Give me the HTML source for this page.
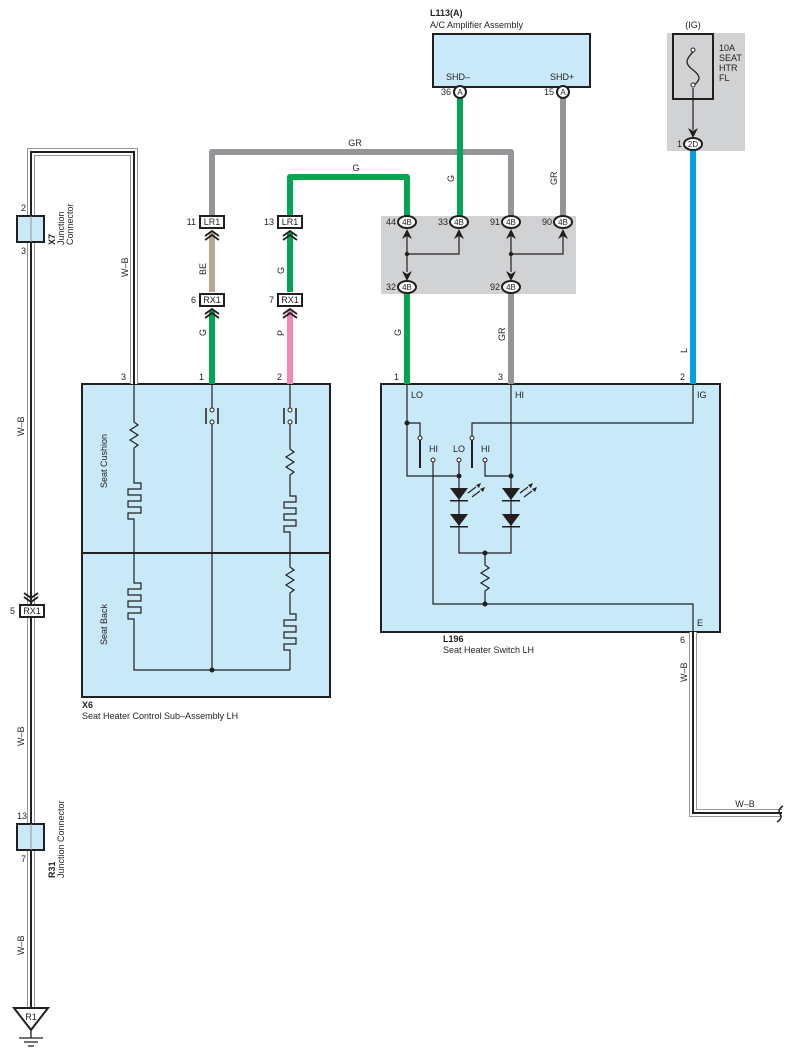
<!DOCTYPE html>
<html><head><meta charset="utf-8"><style>
html,body{margin:0;padding:0;background:#fff}
svg{display:block}
text{font-family:"Liberation Sans",Arial,sans-serif;font-size:9px;fill:#231f20}
.b{font-weight:bold}
</style></head><body>
<svg width="796" height="1061" viewBox="0 0 796 1061" xmlns="http://www.w3.org/2000/svg">
<!-- gray areas -->
<rect x="381" y="216" width="195" height="78" fill="#d1d2d4"/>
<rect x="667" y="33" width="78" height="118" fill="#d1d2d4"/>

<!-- boxes -->
<rect x="82" y="384" width="248" height="313" fill="#c8e9f8" stroke="#231f20" stroke-width="2"/>
<line x1="82" y1="553" x2="330" y2="553" stroke="#231f20" stroke-width="2"/>
<rect x="381" y="384" width="339" height="248" fill="#c8e9f8" stroke="#231f20" stroke-width="2"/>
<rect x="433" y="34" width="157" height="53" fill="#c8e9f8" stroke="#231f20" stroke-width="2"/>
<rect x="673" y="34" width="40" height="65" fill="none" stroke="#231f20" stroke-width="2"/>

<!-- W-B wires -->
<g fill="none">
<path d="M31,1010 V152 H134 V384" stroke="#939598" stroke-width="8"/>
<path d="M31,1010 V152 H134 V384" stroke="#fff" stroke-width="6"/>
<path d="M31,1010 V152 H134 V384" stroke="#231f20" stroke-width="2"/>
<path d="M693,632 V813 H782" stroke="#939598" stroke-width="8"/>
<path d="M693,632 V813 H782" stroke="#fff" stroke-width="6"/>
<path d="M693,632 V813 H782" stroke="#231f20" stroke-width="2"/>
</g>
<path d="M783,806 q-6,4 -3,8 q3,4 -3,8" fill="none" stroke="#231f20" stroke-width="1.5"/>

<!-- colored wires -->
<g fill="none" stroke-width="6">
<path d="M212,220 V152 H511 V216" stroke="#939598" stroke-linejoin="round"/>
<path d="M290,220 V177 H407 V216" stroke="#00a651" stroke-linejoin="round"/>
<path d="M460,92 V216" stroke="#00a651"/>
<path d="M563,92 V216" stroke="#939598"/>
<path d="M212,232 V292" stroke="#b8a890"/>
<path d="M290,232 V292" stroke="#00a651"/>
<path d="M212,310 V384" stroke="#00a651"/>
<path d="M290,310 V384" stroke="#f088b8"/>
<path d="M407,292 V384" stroke="#00a651"/>
<path d="M511,292 V384" stroke="#939598"/>
<path d="M693,150 V384" stroke="#00a0e3"/>
</g>

<!-- splice lines -->
<g stroke="#231f20" stroke-width="1.2" fill="none">
<path d="M407,236 V272"/>
<path d="M407,254 H459 V236"/>
<path d="M511,236 V272"/>
<path d="M511,254 H563 V236"/>
<path d="M693,88 V130"/>
</g>
<g fill="#231f20">
<path d="M407,229 l5,10 l-5,-3 l-5,3 Z"/><path d="M459,229 l5,10 l-5,-3 l-5,3 Z"/>
<path d="M511,229 l5,10 l-5,-3 l-5,3 Z"/><path d="M563,229 l5,10 l-5,-3 l-5,3 Z"/>
<path d="M407,281 l5,-10 l-5,3 l-5,-3 Z"/><path d="M511,281 l5,-10 l-5,3 l-5,-3 Z"/>
<path d="M693,138 l5,-10 l-5,3 l-5,-3 Z"/>
</g>
<circle cx="407" cy="254" r="2.2" fill="#231f20"/><circle cx="511" cy="254" r="2.2" fill="#231f20"/>
<path d="M693,52 c-8,8 -8,12 0,18 c8,6 8,10 0,16" fill="none" stroke="#231f20" stroke-width="1.3"/>
<circle cx="693" cy="50" r="2" fill="#fff" stroke="#231f20"/><circle cx="693" cy="85" r="2" fill="#fff" stroke="#231f20"/>

<!-- 4B connectors -->
<g stroke="#231f20" stroke-width="2" fill="#fff">
<ellipse cx="407" cy="222" rx="9" ry="6"/><ellipse cx="459" cy="222" rx="9" ry="6"/>
<ellipse cx="511" cy="222" rx="9" ry="6"/><ellipse cx="563" cy="222" rx="9" ry="6"/>
<ellipse cx="407" cy="287" rx="9" ry="6"/><ellipse cx="511" cy="287" rx="9" ry="6"/>
<ellipse cx="693" cy="144" rx="9" ry="6"/>
<circle cx="460" cy="92" r="6"/><circle cx="563" cy="92" r="6"/>
</g>
<g text-anchor="middle">
<text x="407" y="225" style="font-size:8px">4B</text><text x="459" y="225" style="font-size:8px">4B</text>
<text x="511" y="225" style="font-size:8px">4B</text><text x="563" y="225" style="font-size:8px">4B</text>
<text x="407" y="290" style="font-size:8px">4B</text><text x="511" y="290" style="font-size:8px">4B</text>
<text x="693" y="147" style="font-size:8px">2D</text>
<text x="460" y="95" style="font-size:8px">A</text><text x="563" y="95" style="font-size:8px">A</text>
</g>
<g text-anchor="end">
<text x="396" y="225">44</text><text x="448" y="225">33</text><text x="500" y="225">91</text><text x="552" y="225">90</text>
<text x="396" y="290">32</text><text x="500" y="290">92</text><text x="682" y="147">1</text>
<text x="451" y="95">36</text><text x="554" y="95">15</text>
</g>

<!-- LR1 / RX1 -->
<g stroke="#231f20" stroke-width="2" fill="#fff">
<rect x="200" y="216" width="24" height="12"/><rect x="278" y="216" width="24" height="12"/>
<rect x="200" y="294" width="24" height="12"/><rect x="278" y="294" width="24" height="12"/>
<rect x="20" y="605" width="24" height="12"/>
</g>
<g fill="none" stroke="#231f20" stroke-width="1.8">
<path d="M205,236 l7,-5 l7,5 M205,240 l7,-5 l7,5"/>
<path d="M283,236 l7,-5 l7,5 M283,240 l7,-5 l7,5"/>
<path d="M205,314 l7,-5 l7,5 M205,318 l7,-5 l7,5"/>
<path d="M283,314 l7,-5 l7,5 M283,318 l7,-5 l7,5"/>
<path d="M24,593 l7,5 l7,-5 M24,597 l7,5 l7,-5"/>
</g>
<g text-anchor="middle">
<text x="212" y="225">LR1</text><text x="290" y="225">LR1</text>
<text x="212" y="303">RX1</text><text x="290" y="303">RX1</text><text x="32" y="614">RX1</text>
</g>
<g text-anchor="end">
<text x="196" y="225">11</text><text x="274" y="225">13</text><text x="196" y="303">6</text><text x="274" y="303">7</text><text x="15" y="614">5</text>
</g>

<!-- junction connectors -->
<rect x="17" y="216" width="27" height="26" fill="#c8e9f8" stroke="#231f20" stroke-width="2"/>
<rect x="17" y="824" width="27" height="26" fill="#c8e9f8" stroke="#231f20" stroke-width="2"/>
<line x1="31" y1="216" x2="31" y2="242" stroke="#939598"/><line x1="31" y1="824" x2="31" y2="850" stroke="#939598"/>
<text x="21" y="211">2</text><text x="21" y="254">3</text><text x="17" y="819">13</text><text x="21" y="862">7</text>
<text transform="translate(55,245) rotate(-90)" class="b">X7</text>
<text transform="translate(64,245) rotate(-90)">Junction</text>
<text transform="translate(73,245) rotate(-90)">Connector</text>
<text transform="translate(55,878) rotate(-90)" class="b">R31</text>
<text transform="translate(64,878) rotate(-90)">Junction Connector</text>

<!-- ground -->
<path d="M14,1008 H48 L31,1030 Z" fill="#fff" stroke="#231f20" stroke-width="2"/>
<text x="31" y="1020" text-anchor="middle">R1</text>
<g stroke="#231f20" stroke-width="1.3"><line x1="31" y1="1030" x2="31" y2="1038"/><line x1="19" y1="1038" x2="43" y2="1038"/><line x1="24" y1="1042" x2="38" y2="1042"/><line x1="28" y1="1046" x2="34" y2="1046"/></g>

<!-- wire labels -->
<g>
<text transform="translate(24,436) rotate(-90)">W–B</text>
<text transform="translate(24,746) rotate(-90)">W–B</text>
<text transform="translate(24,955) rotate(-90)">W–B</text>
<text transform="translate(128,277) rotate(-90)">W–B</text>
<text transform="translate(206,275) rotate(-90)">BE</text>
<text transform="translate(284,274) rotate(-90)">G</text>
<text transform="translate(206,336) rotate(-90)">G</text>
<text transform="translate(284,336) rotate(-90)">P</text>
<text transform="translate(401,336) rotate(-90)">G</text>
<text transform="translate(505,341) rotate(-90)">GR</text>
<text transform="translate(687,353) rotate(-90)">L</text>
<text transform="translate(454,182) rotate(-90)">G</text>
<text transform="translate(557,185) rotate(-90)">GR</text>
<text transform="translate(687,682) rotate(-90)">W–B</text>
<text x="355" y="146" text-anchor="middle">GR</text>
<text x="356" y="171" text-anchor="middle">G</text>
<text x="745" y="807" text-anchor="middle">W–B</text>
</g>
<text x="204" y="380" text-anchor="end">1</text><text x="282" y="380" text-anchor="end">2</text><text x="126" y="380" text-anchor="end">3</text>
<text x="399" y="380" text-anchor="end">1</text><text x="503" y="380" text-anchor="end">3</text><text x="685" y="380" text-anchor="end">2</text>
<text x="685" y="643" text-anchor="end">6</text>

<!-- titles -->
<text x="430" y="16" class="b">L113(A)</text><text x="430" y="28">A/C Amplifier Assembly</text>
<text x="446" y="80">SHD–</text><text x="550" y="80">SHD+</text>
<text x="693" y="28" text-anchor="middle">(IG)</text>
<text x="719" y="51">10A</text><text x="719" y="61">SEAT</text><text x="719" y="71">HTR</text><text x="719" y="81">FL</text>
<text x="82" y="708" class="b">X6</text><text x="82" y="719">Seat Heater Control Sub–Assembly LH</text>
<text x="443" y="642" class="b">L196</text><text x="443" y="653">Seat Heater Switch LH</text>
<text x="411" y="398">LO</text><text x="515" y="398">HI</text><text x="697" y="398">IG</text><text x="697" y="626">E</text>
<text transform="translate(107,488) rotate(-90)">Seat Cushion</text>
<text transform="translate(107,645) rotate(-90)">Seat Back</text>

<!-- X6 internals -->
<g fill="none" stroke="#231f20" stroke-width="1.2">
<path d="M134,384 V422 l4,3 l-8,5 l8,5 l-8,5 l8,5 l-4,3 V483 h7 v6 h-13 v6 h13 v6 h-13 v6 h13 v6 h-13 v6 h6 V583 h7 v6 h-13 v6 h13 v6 h-13 v6 h13 v6 h-13 v6 h6 V670 H290"/>
<path d="M212,384 V408 M212,420 V670 M290,384 V408 M290,420 V449 l4,3 l-8,5 l8,5 l-8,5 l8,5 l-4,3 V496 h6 v6 h-12 v6 h12 v6 h-12 v6 h12 v6 h-12 v6 h6 V567 l4,3 l-8,5 l8,5 l-8,5 l8,5 l-4,3 V614 h6 v6 h-12 v6 h12 v6 h-12 v6 h12 v6 h-12 v6 h6 V670"/>
<path d="M206,408 V424 M218,408 V424 M284,408 V424 M296,408 V424" stroke-width="1.5"/>
</g>
<g fill="#fff" stroke="#231f20" stroke-width="1"><circle cx="212" cy="410" r="2"/><circle cx="212" cy="422" r="2"/><circle cx="290" cy="410" r="2"/><circle cx="290" cy="422" r="2"/></g>
<circle cx="212" cy="670" r="2.5" fill="#231f20"/>

<!-- L196 internals -->
<g fill="none" stroke="#231f20" stroke-width="1.2">
<path d="M407,384 V476 H459"/>
<path d="M407,423 H420 V437"/>
<path d="M693,384 V423 H472 V437"/>
<path d="M433,462 V604 H693 V632"/>
<path d="M459,462 V476 V553 H511 V476"/>
<path d="M485,462 V476 H511"/>
<path d="M511,384 V476"/>
<path d="M485,553 V565 l4,3 l-8,5 l8,5 l-8,5 l8,5 l-4,3 V604"/>
<path d="M420,440 V468 M472,440 V468" stroke-width="2"/>
<path d="M468,493 l8,-6 M472,497 l8,-6 M520,493 l8,-6 M524,497 l8,-6"/>
</g>
<g fill="#231f20">
<path d="M450,488 H468 L459,500 Z"/><rect x="450" y="500" width="18" height="1.5"/>
<path d="M450,514 H468 L459,526 Z"/><rect x="450" y="526" width="18" height="1.5"/>
<path d="M502,488 H520 L511,500 Z"/><rect x="502" y="500" width="18" height="1.5"/>
<path d="M502,514 H520 L511,526 Z"/><rect x="502" y="526" width="18" height="1.5"/>
<path d="M476,485 l5,-2 l-2,5 Z M480,489 l5,-2 l-2,5 Z M528,485 l5,-2 l-2,5 Z M532,489 l5,-2 l-2,5 Z"/>
<circle cx="407" cy="423" r="2.5"/><circle cx="459" cy="476" r="2.5"/><circle cx="511" cy="476" r="2.5"/>
<circle cx="485" cy="553" r="2.5"/><circle cx="485" cy="604" r="2.5"/>
</g>
<g fill="#fff" stroke="#231f20" stroke-width="1">
<circle cx="420" cy="438" r="2"/><circle cx="472" cy="438" r="2"/>
<circle cx="433" cy="460" r="2"/><circle cx="459" cy="460" r="2"/><circle cx="485" cy="460" r="2"/>
</g>
<text x="429" y="452">HI</text><text x="453" y="452">LO</text><text x="481" y="452">HI</text>
</svg>
</body></html>
